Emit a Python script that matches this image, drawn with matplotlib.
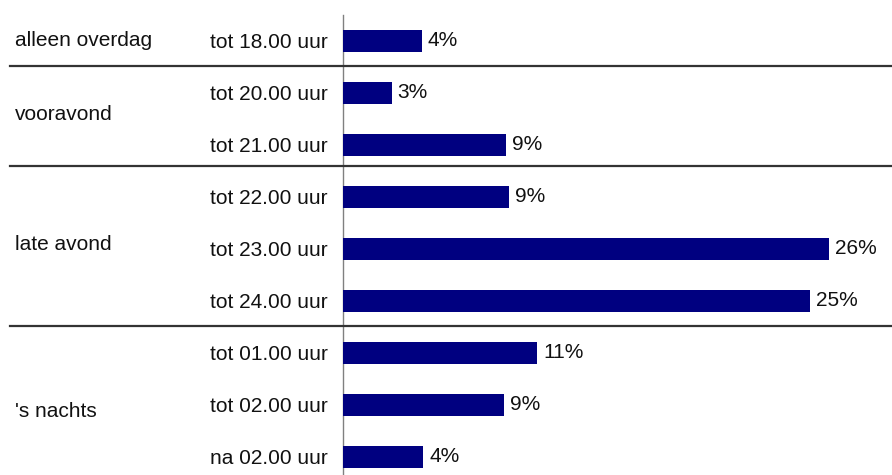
import matplotlib
matplotlib.use("Agg")
import matplotlib.pyplot as plt
from matplotlib.transforms import blended_transform_factory

plt.rcParams['font.family'] = ['Liberation Sans', 'DejaVu Sans']

categories = ["tot 18.00 uur", "tot 20.00 uur", "tot 21.00 uur", "tot 22.00 uur",
              "tot 23.00 uur", "tot 24.00 uur", "tot 01.00 uur", "tot 02.00 uur",
              "na 02.00 uur"]
values = [4.2, 2.6, 8.7, 8.9, 26.0, 25.0, 10.4, 8.6, 4.3]
value_labels = ["4%", "3%", "9%", "9%", "26%", "25%", "11%", "9%", "4%"]
groups = ["alleen overdag", "vooravond", "late avond", "'s nachts"]
group_rows = [[0], [1, 2], [3, 4, 5], [6, 7, 8]]
group_label_shift = [0.0, -0.08, -0.08, 0.13]
separators = [0.48, 2.40, 5.48]

W, H = 892, 475
fig = plt.figure(figsize=(W / 100, H / 100), dpi=100)
ax = fig.add_axes([343 / W, 0, 1 - 343 / W, 1 - 15 / H])

y = list(range(len(categories)))
ax.barh(y, values, height=0.42, color="#000080", zorder=3)
ax.set_ylim(8.35, -0.5)
ax.set_xlim(0, 29.36)

for s in ["top", "right", "bottom"]:
    ax.spines[s].set_visible(False)
ax.spines["left"].set_color("#808080")
ax.spines["left"].set_linewidth(1.0)
ax.set_xticks([])
ax.set_yticks(y)
ax.set_yticklabels(categories, fontsize=15, color="#111111")
ax.tick_params(axis="y", length=0, pad=10.8)

fs = 15
for yi, v, lab in zip(y, values, value_labels):
    ax.annotate(lab, (v, yi), xytext=(6, 0), textcoords="offset pixels",
                va="center", ha="left", fontsize=fs, color="#111111")

trans = blended_transform_factory(fig.transFigure, ax.transData)
for sy in separators:
    ax.plot([10 / W, 1.0], [sy, sy], transform=trans, color="#333333",
            linewidth=1.6, clip_on=False, zorder=4)

for g, rows, sh in zip(groups, group_rows, group_label_shift):
    gy = sum(rows) / len(rows) + sh
    ax.text(15 / W, gy, g, transform=trans, ha="left", va="center",
            fontsize=fs, color="#111111")

fig.savefig("out.png", dpi=100)
